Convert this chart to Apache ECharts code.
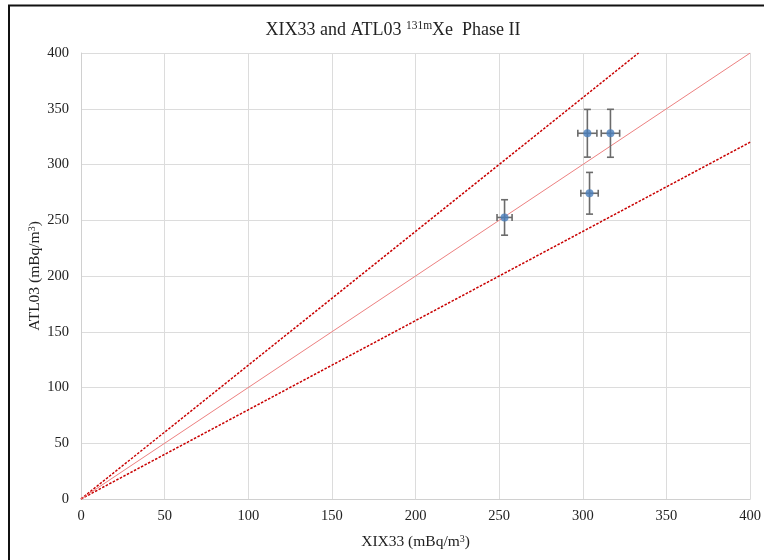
<!DOCTYPE html>
<html>
<head>
<meta charset="utf-8">
<script src="https://cdn.jsdelivr.net/npm/echarts@6/dist/echarts.min.js"></script>
<style>html,body{margin:0;padding:0;background:#fff;}#c{width:764px;height:560px;}</style>
</head>
<body>
<div id="c"></div>
<script>
// Data
var xValues = [253.2, 302.7, 316.5, 304.0];
var yValues = [252.5, 328.0, 328.0, 274.2];
var xErrors = [4.5, 5.7, 5.5, 5.2];
var yErrors = [15.9, 21.4, 21.5, 18.7];
var ratioSolid = [1.0];
var ratioDashed = [1.2, 0.8];
var axisMax = 400;
var tickInterval = 50;

var font = '"Liberation Serif", "Times New Roman", serif';

function ratioLine(r) {
  var xEnd = Math.min(axisMax, axisMax / r);
  return [[0, 0], [xEnd, xEnd * r]];
}

var points = xValues.map(function (x, i) { return [x, yValues[i]]; });
var errData = xValues.map(function (x, i) { return [x, yValues[i], xErrors[i], yErrors[i]]; });

var chart = echarts.init(document.getElementById('c'), null, { renderer: 'canvas' });

var series = [];
ratioDashed.forEach(function (r) {
  series.push({
    type: 'line', data: ratioLine(r), symbol: 'none', silent: true,
    lineStyle: { color: '#c80000', width: 1.5, type: [2.5, 1.5] }, z: 2
  });
});
ratioSolid.forEach(function (r) {
  series.push({
    type: 'line', data: ratioLine(r), symbol: 'none', silent: true,
    lineStyle: { color: '#ec8080', width: 1, type: 'solid' }, z: 2
  });
});
series.push({
  type: 'custom', data: errData, z: 3,
  renderItem: function (params, api) {
    var x = api.value(0), y = api.value(1), ex = api.value(2), ey = api.value(3);
    var l = api.coord([x - ex, y]), r = api.coord([x + ex, y]);
    var t = api.coord([x, y + ey]), b = api.coord([x, y - ey]);
    var cap = 3.5;
    var st = { stroke: '#6b6b6b', lineWidth: 1.6 };
    return {
      type: 'group',
      children: [
        { type: 'line', shape: { x1: l[0], y1: l[1], x2: r[0], y2: r[1] }, style: st },
        { type: 'line', shape: { x1: l[0], y1: l[1] - cap, x2: l[0], y2: l[1] + cap }, style: st },
        { type: 'line', shape: { x1: r[0], y1: r[1] - cap, x2: r[0], y2: r[1] + cap }, style: st },
        { type: 'line', shape: { x1: t[0], y1: t[1], x2: b[0], y2: b[1] }, style: st },
        { type: 'line', shape: { x1: t[0] - cap, y1: t[1], x2: t[0] + cap, y2: t[1] }, style: st },
        { type: 'line', shape: { x1: b[0] - cap, y1: b[1], x2: b[0] + cap, y2: b[1] }, style: st }
      ]
    };
  }
});
series.push({
  type: 'scatter', data: points, symbol: 'circle', symbolSize: 8, z: 4,
  itemStyle: { color: '#4a7ebb' }
});

var nameRich = {
  m: { fontFamily: font, fontSize: 15.5, color: '#222' },
  s: { fontFamily: font, fontSize: 10, color: '#222', verticalAlign: 'top', padding: [0, 0, 6, 0] }
};

chart.setOption({
  animation: false,
  backgroundColor: '#fff',
  title: {
    text: '{m|XIX33 and ATL03 }{s|131m}{m|Xe  Phase II}',
    left: 388, top: 15, textAlign: 'center',
    textStyle: {
      fontWeight: 'normal',
      rich: {
        m: { fontFamily: font, fontSize: 18, fontWeight: 'normal', color: '#222' },
        s: { fontFamily: font, fontSize: 11.5, fontWeight: 'normal', color: '#222', verticalAlign: 'top', padding: [0, 0, 8, 0] }
      }
    }
  },
  grid: { left: 81, right: 12, top: 53, bottom: 61, containLabel: false },
  xAxis: {
    type: 'value', min: 0, max: axisMax, interval: tickInterval,
    name: '{m|XIX33 (mBq/m}{s|3}{m|)}', nameLocation: 'middle', nameGap: 35, nameMoveOverlap: false,
    nameTextStyle: { rich: nameRich },
    axisLine: { show: true, lineStyle: { color: '#d0d0d0', width: 1 } },
    axisTick: { show: false },
    axisLabel: { fontFamily: font, fontSize: 14.5, color: '#222', margin: 10 },
    splitLine: { show: true, lineStyle: { color: '#dcdcdc', width: 1 } }
  },
  yAxis: {
    type: 'value', min: 0, max: axisMax, interval: tickInterval,
    name: '{m|ATL03 (mBq/m}{s|3}{m|)}', nameLocation: 'middle', nameGap: 38, nameRotate: 90, nameMoveOverlap: false,
    nameTextStyle: { rich: nameRich },
    axisLine: { show: true, lineStyle: { color: '#d0d0d0', width: 1 } },
    axisTick: { show: false },
    axisLabel: { fontFamily: font, fontSize: 14.5, color: '#222', margin: 12 },
    splitLine: { show: true, lineStyle: { color: '#dcdcdc', width: 1 } }
  },
  graphic: [{
    type: 'rect', silent: true,
    shape: { x: 9, y: 5.5, width: 800, height: 600 },
    style: { fill: 'none', stroke: '#111', lineWidth: 2 }
  }],
  series: series
});
</script>
</body>
</html>
